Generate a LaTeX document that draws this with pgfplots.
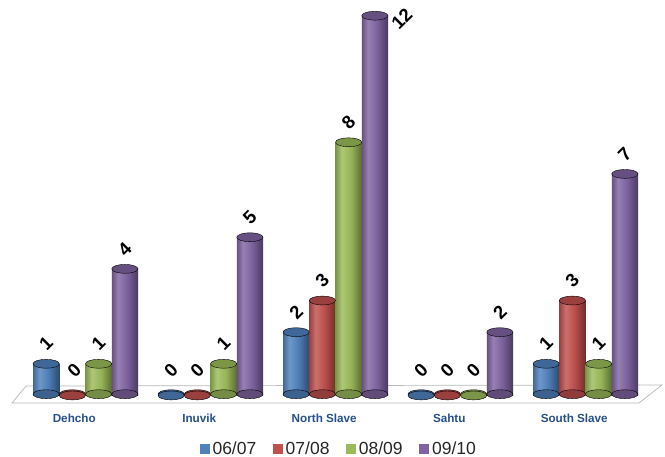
\documentclass[border=0pt]{standalone}
\usepackage{pgfplots}
\pgfplotsset{compat=1.18}
\usepackage{pgfplotstable}
\usepackage{fontspec}
\setmainfont{Liberation Sans}

\definecolor{sblue}{HTML}{4F81BD}
\definecolor{sred}{HTML}{C0504D}
\definecolor{sgreen}{HTML}{9BBB59}
\definecolor{spurple}{HTML}{8064A2}
\definecolor{catblue}{HTML}{264F8C}

% horizontal gradient that gives each bar a rounded, cylindrical look
\newcommand\cylshade[2]{%
  \pgfdeclarehorizontalshading{#1}{100bp}{%
    color(0bp)=(#2!80!black); color(25bp)=(#2!80!black);
    color(37bp)=(#2!82!white); color(55bp)=(#2!96!black);
    color(75bp)=(#2!58!black); color(100bp)=(#2!58!black)}}
\cylshade{cylblue}{sblue}
\cylshade{cylred}{sred}
\cylshade{cylgreen}{sgreen}
\cylshade{cylpurple}{spurple}

\newcommand\legfont{\fontsize{17.5}{20}\selectfont}

% g = region index, y = count, lx/ly = label offset (pt)
\pgfplotstableread{
g y lx ly
0 1 0 20
1 0 0 25
2 2 0 20
3 0 0 25
4 1 0 20
}\tA
\pgfplotstableread{
g y lx ly
0 0 2 25
1 0 0 25
2 3 0 20
3 0 0 25
4 3 0 20
}\tB
\pgfplotstableread{
g y lx ly
0 1 0 20
1 1 0 20
2 8 0 20
3 0 0 25
4 1 0 20
}\tC
\pgfplotstableread{
g y lx ly
0 4 0 20
1 5 0 20
2 12 27 -3
3 2 0 20
4 7 0 20
}\tD

% one series of cylinders: bottom caps, bodies (one path per bar so
% that each gets its own gradient), top caps with value labels
\newcommand\cylseries[4]{%
  \addplot[forget plot, only marks, mark=*, mark size=13.1pt,
    mark options={draw=none, fill=#3!75!black, yscale=0.34}]
    table[x expr=\thisrow{g}+#2, y expr=0.04] {#1};
  \pgfplotsinvokeforeach{0,...,4}{%
    \addplot[forget plot, ybar, bar width=0.21, bar shift=0pt, draw=none,
      shading=#4, shade,
      x filter/.expression={\coordindex==##1 ? x : nan},
      y filter/.expression={y==0 ? nan : y}]
      table[x expr=\thisrow{g}+#2, y=y] {#1};
  }
  \addplot[forget plot, only marks, mark=*, mark size=13.1pt,
    mark options={draw=none, fill=#3!80!black, yscale=0.34},
    point meta=\thisrow{y}, nodes near coords,
    visualization depends on={\thisrow{lx} \as \labdx},
    visualization depends on={\thisrow{ly} \as \labdy},
    every node near coord/.append style={xshift=\labdx pt, yshift=\labdy pt,
      rotate=45, anchor=center, inner sep=0pt, text=black,
      font=\fontsize{18.5}{20}\selectfont\bfseries}]
    table[x expr=\thisrow{g}+#2, y=y] {#1};
}

\begin{document}
\begin{tikzpicture}
\path[use as bounding box] (0,0) rectangle (665pt,457pt);
% floor of the plot
\filldraw[fill=white, draw=black!28, line width=0.7pt]
  (12pt,54pt) -- (639pt,54pt) -- (662pt,72pt) -- (26pt,71pt) -- cycle;
\begin{axis}[
  at={(10pt,53pt)}, anchor=south west,
  scale only axis, width=652pt, height=400pt,
  xmin=-0.604, xmax=4.612, ymin=-0.27, ymax=12.37,
  axis line style={draw=none}, tick style={draw=none},
  ytick=\empty,
  xtick={-0.09,0.91,1.91,2.91,3.91},
  xticklabels={Dehcho,Inuvik,North Slave,Sahtu,South Slave},
  xticklabel style={font=\fontsize{11.7}{14}\selectfont\bfseries,
    text=catblue, yshift=-6pt},
  clip=false,
  /pgf/number format/assume math mode=true,
  legend columns=4,
  legend style={at={(0.5054,-0.1125)}, anchor=center, draw=none, fill=none,
    nodes={inner ysep=2pt, inner xsep=3.5pt, text=black!85},
    /tikz/every even column/.append style={column sep=13pt}},
]
\cylseries{\tA}{-0.315}{sblue}{cylblue}
\cylseries{\tB}{-0.105}{sred}{cylred}
\cylseries{\tC}{0.105}{sgreen}{cylgreen}
\cylseries{\tD}{0.315}{spurple}{cylpurple}

\addlegendimage{legend image code/.code={\fill[sblue] (0pt,-4.5pt) rectangle (9pt,4.5pt);}}
\addlegendentry{\legfont 06/07}
\addlegendimage{legend image code/.code={\fill[sred] (0pt,-4.5pt) rectangle (9pt,4.5pt);}}
\addlegendentry{\legfont 07/08}
\addlegendimage{legend image code/.code={\fill[sgreen] (0pt,-4.5pt) rectangle (9pt,4.5pt);}}
\addlegendentry{\legfont 08/09}
\addlegendimage{legend image code/.code={\fill[spurple] (0pt,-4.5pt) rectangle (9pt,4.5pt);}}
\addlegendentry{\legfont 09/10}
\end{axis}
\end{tikzpicture}
\end{document}
